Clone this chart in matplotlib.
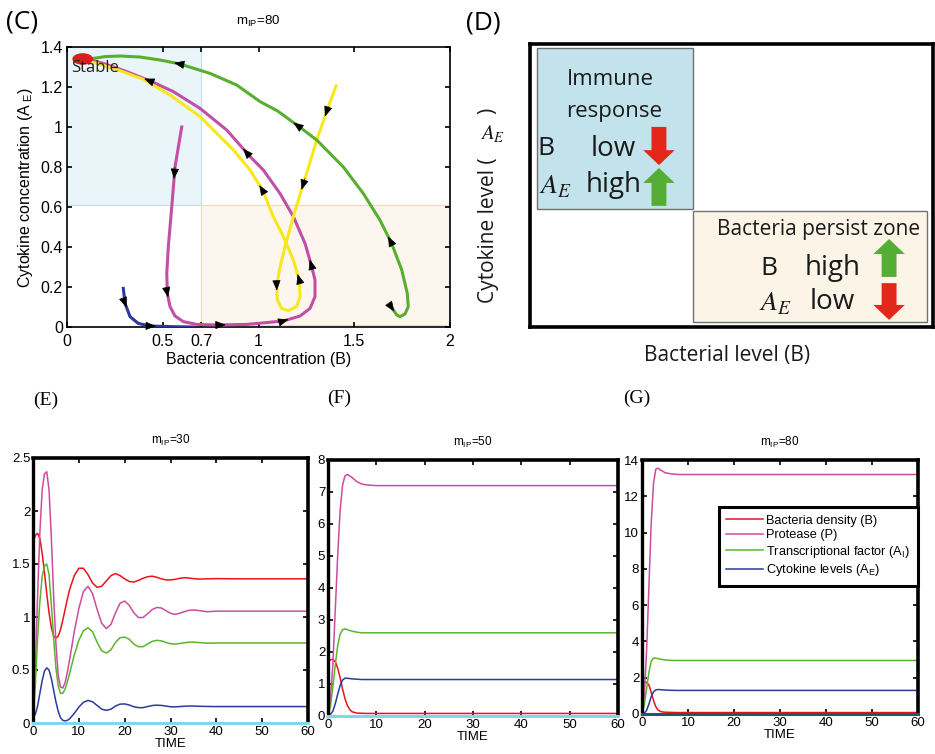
import matplotlib

matplotlib.use("Agg")
import matplotlib.pyplot as plt
from matplotlib.patches import Ellipse, FancyArrow, Rectangle

plt.rcParams["font.family"] = ["Liberation Sans", "DejaVu Sans"]
plt.rcParams["mathtext.default"] = "regular"

# ---------------- panel C: phase portrait (m_IP = 80) ----------------
green_b = [1.687, 1.704, 1.722, 1.739, 1.765, 1.782, 1.777, 1.748, 1.695, 1.634, 1.547,
           1.443, 1.304, 1.217, 1.10, 1.008, 0.886, 0.747, 0.59, 0.486, 0.38, 0.277,
           0.2, 0.137, 0.09]
green_ae = [0.102, 0.085, 0.06, 0.052, 0.065, 0.102, 0.168, 0.285, 0.418, 0.535, 0.668,
            0.80, 0.935, 0.998, 1.08, 1.127, 1.21, 1.268, 1.315, 1.335, 1.35, 1.355,
            1.352, 1.343, 1.338]
green_arrows = [1, 8, 13, 18]

magenta_b = [0.599, 0.564, 0.547, 0.529, 0.521, 0.524, 0.538, 0.564, 0.607, 0.677, 0.782,
             0.938, 1.13, 1.217, 1.269, 1.295, 1.295, 1.278, 1.243, 1.182, 1.112, 1.025,
             0.956, 0.834, 0.695, 0.555, 0.442, 0.312, 0.19, 0.137, 0.09]
magenta_ae = [1.0, 0.80, 0.60, 0.40, 0.268, 0.168, 0.102, 0.055, 0.027, 0.013, 0.01,
              0.013, 0.03, 0.055, 0.093, 0.152, 0.235, 0.302, 0.418, 0.552, 0.668, 0.785,
              0.852, 0.985, 1.093, 1.177, 1.227, 1.277, 1.318, 1.332, 1.338]
magenta_arrows = [1, 5, 10, 12, 17, 22, 26]

yellow_b = [1.405, 1.365, 1.304, 1.243, 1.182, 1.138, 1.109, 1.095, 1.098, 1.121, 1.156,
            1.199, 1.217, 1.213, 1.182, 1.13, 1.077, 1.025, 0.956, 0.869, 0.695, 0.538,
            0.399, 0.259, 0.155, 0.10]
yellow_ae = [1.205, 1.102, 0.935, 0.743, 0.552, 0.40, 0.285, 0.202, 0.135, 0.093, 0.082,
             0.102, 0.152, 0.235, 0.335, 0.452, 0.552, 0.677, 0.785, 0.885, 1.052, 1.16,
             1.238, 1.288, 1.318, 1.33]
yellow_arrows = [1, 3, 7, 13, 17]

blue_b = [0.294, 0.303, 0.329, 0.372, 0.433, 0.538, 0.658]
blue_ae = [0.193, 0.118, 0.052, 0.018, 0.005, 0.002, 0.0]
blue_arrows = [1, 4]

stable_point = (0.082, 1.34)
b_threshold = 0.7
ae_threshold = 0.61
c_xticks = [0, 0.5, 0.7, 1, 1.5, 2]
c_yticks = [0, 0.2, 0.4, 0.6, 0.8, 1, 1.2, 1.4]

# ---------------- panels E, F, G: time courses ----------------
t_e = [0, 0.5, 1, 1.5, 2, 2.5, 3, 3.5, 4, 4.5, 5, 5.5, 6, 6.5, 7, 7.5, 8, 9, 10, 11,
       12, 13, 14, 15, 16, 17, 18, 19, 20, 21, 22, 23, 24, 25, 26, 27, 28, 29, 30, 31,
       32, 33, 34, 35, 36, 38, 40, 45, 50, 55, 60]
b_e = [1.70, 1.77, 1.79, 1.74, 1.60, 1.42, 1.22, 1.04, 0.90, 0.82, 0.80, 0.82, 0.88, 0.97,
       1.07, 1.17, 1.26, 1.39, 1.46, 1.46, 1.40, 1.32, 1.28, 1.29, 1.34, 1.39, 1.41, 1.39,
       1.36, 1.335, 1.33, 1.345, 1.365, 1.38, 1.385, 1.375, 1.36, 1.35, 1.35, 1.355, 1.365,
       1.37, 1.368, 1.362, 1.358, 1.36, 1.362, 1.36, 1.36, 1.36, 1.36]
p_e = [0.05, 0.5, 1.2, 1.8, 2.2, 2.35, 2.37, 2.2, 1.75, 1.2, 0.75, 0.45, 0.34, 0.33, 0.38,
       0.48, 0.6, 0.86, 1.08, 1.24, 1.29, 1.22, 1.07, 0.94, 0.89, 0.93, 1.04, 1.13, 1.15,
       1.11, 1.04, 0.995, 0.995, 1.03, 1.07, 1.09, 1.085, 1.06, 1.035, 1.025, 1.035, 1.05,
       1.063, 1.066, 1.062, 1.05, 1.055, 1.055, 1.055, 1.055, 1.055]
ai_e = [0.05, 0.35, 0.8, 1.15, 1.38, 1.48, 1.50, 1.40, 1.12, 0.8, 0.52, 0.35, 0.28, 0.28,
        0.32, 0.39, 0.47, 0.64, 0.78, 0.87, 0.90, 0.86, 0.76, 0.68, 0.66, 0.69, 0.76, 0.805,
        0.81, 0.79, 0.745, 0.72, 0.72, 0.745, 0.77, 0.78, 0.775, 0.76, 0.748, 0.745, 0.75,
        0.757, 0.762, 0.763, 0.76, 0.753, 0.755, 0.755, 0.755, 0.755, 0.755]
ae_e = [0.06, 0.08, 0.16, 0.28, 0.40, 0.49, 0.52, 0.50, 0.42, 0.31, 0.2, 0.11, 0.05, 0.025,
        0.02, 0.025, 0.04, 0.09, 0.15, 0.195, 0.213, 0.20, 0.165, 0.13, 0.12, 0.13, 0.16,
        0.178, 0.18, 0.17, 0.153, 0.145, 0.145, 0.155, 0.165, 0.168, 0.166, 0.16, 0.153,
        0.152, 0.155, 0.158, 0.16, 0.16, 0.158, 0.156, 0.155, 0.155, 0.155, 0.155, 0.155]

t_fg = [0, 0.5, 1, 1.5, 2, 2.5, 3, 3.5, 4, 4.5, 5, 6, 7, 8, 9, 10, 20, 30, 40, 50, 60]
b_f = [1.70, 1.76, 1.77, 1.70, 1.5, 1.2, 0.85, 0.55, 0.33, 0.2, 0.13, 0.09, 0.085, 0.08,
       0.08, 0.08, 0.08, 0.08, 0.08, 0.08, 0.08]
p_f = [0.0, 0.5, 1.6, 3.3, 5.0, 6.4, 7.2, 7.5, 7.55, 7.5, 7.45, 7.32, 7.25, 7.22, 7.21,
       7.2, 7.2, 7.2, 7.2, 7.2, 7.2]
ai_f = [0.0, 0.3, 0.9, 1.6, 2.2, 2.55, 2.7, 2.72, 2.7, 2.67, 2.65, 2.62, 2.6, 2.6, 2.6,
        2.6, 2.6, 2.6, 2.6, 2.6, 2.6]
ae_f = [0.02, 0.05, 0.15, 0.38, 0.68, 0.95, 1.12, 1.18, 1.18, 1.17, 1.16, 1.15, 1.14,
        1.14, 1.14, 1.14, 1.14, 1.14, 1.14, 1.14, 1.14]

b_g = [1.75, 1.76, 1.74, 1.6, 1.2, 0.75, 0.4, 0.22, 0.14, 0.11, 0.1, 0.09, 0.085, 0.08,
       0.08, 0.08, 0.08, 0.08, 0.08, 0.08, 0.08]
p_g = [0.0, 1.0, 3.5, 7.0, 10.5, 12.7, 13.5, 13.55, 13.45, 13.38, 13.3, 13.25, 13.22,
       13.2, 13.2, 13.2, 13.2, 13.2, 13.2, 13.2, 13.2]
ai_g = [0.0, 0.5, 1.4, 2.3, 2.9, 3.08, 3.08, 3.05, 3.02, 3.0, 2.98, 2.96, 2.95, 2.95,
        2.95, 2.95, 2.95, 2.95, 2.95, 2.95, 2.95]
ae_g = [0.0, 0.05, 0.2, 0.55, 0.95, 1.22, 1.33, 1.35, 1.34, 1.33, 1.32, 1.31, 1.3, 1.3,
        1.3, 1.3, 1.3, 1.3, 1.3, 1.3, 1.3]

series_labels = ["Bacteria density (B)", "Protease (P)",
                 "Transcriptional factor (A$_I$)", "Cytokine levels (A$_E$)"]
series_colors = ["#e8131c", "#cc4c9f", "#5bb42e", "#2b3b9b"]
time_ticks = [0, 10, 20, 30, 40, 50, 60]

W, H = 935, 754
fig = plt.figure(figsize=(W / 100, H / 100), dpi=100)
AE_MATH = r"$\mathit{A}_{\mathit{E}}$"


def box(left, top, right, bottom):
    return [left / W, 1 - bottom / H, (right - left) / W, (bottom - top) / H]


def fig_text(x, y, s, **kw):
    fig.text(x / W, 1 - y / H, s, **kw)


def matlab_ticks(ax, size):
    ax.tick_params(direction="in", top=True, right=True, length=3.5, width=1.2,
                   labelsize=size)


def add_arrows(ax, xs, ys, idx):
    for i in idx:
        x0, y0 = xs[i], ys[i]
        x1 = x0 + 0.3 * (xs[i + 1] - x0)
        y1 = y0 + 0.3 * (ys[i + 1] - y0)
        ax.annotate("", xy=(x1, y1), xytext=(x0, y0),
                    arrowprops=dict(arrowstyle="-|>,head_length=0.65,head_width=0.26",
                                    color="black", lw=0.5, shrinkA=0, shrinkB=0),
                    zorder=6)


# ---- panel C
ax_c = fig.add_axes(box(67, 47, 450, 327))
ax_c.add_patch(Rectangle((0, ae_threshold), b_threshold, 1.4 - ae_threshold,
                         facecolor="#e9f5f9", edgecolor="#bfe0ea", lw=0.8, zorder=0))
ax_c.add_patch(Rectangle((b_threshold, 0.01), 2 - b_threshold, ae_threshold - 0.01,
                         facecolor="#fdf6ef", edgecolor="#f6d9b8", lw=0.8, zorder=0))
ax_c.plot(blue_b, blue_ae, color="#2b3a9a", lw=2.2, zorder=3)
ax_c.plot(magenta_b, magenta_ae, color="#c24fa6", lw=2.2, zorder=3)
ax_c.plot(yellow_b, yellow_ae, color="#f7e81c", lw=2.2, zorder=3)
ax_c.plot(green_b, green_ae, color="#5aae2f", lw=2.2, zorder=3)
add_arrows(ax_c, blue_b, blue_ae, blue_arrows)
add_arrows(ax_c, magenta_b, magenta_ae, magenta_arrows)
add_arrows(ax_c, yellow_b, yellow_ae, yellow_arrows)
add_arrows(ax_c, green_b, green_ae, green_arrows)
ax_c.add_patch(Ellipse(stable_point, 0.108, 0.058, facecolor="#d9201e",
                       edgecolor="none", zorder=5))
ax_c.text(0.024, 1.295, "Stable", fontsize=12, family="Open Sans", va="center",
          color="#222222", zorder=7)
ax_c.set_xlim(0, 2)
ax_c.set_ylim(0, 1.4)
ax_c.set_xticks(c_xticks)
ax_c.set_xticklabels(["0", "0.5", "0.7", "1", "1.5", "2"])
ax_c.set_yticks(c_yticks)
ax_c.set_yticklabels(["0", "0.2", "0.4", "0.6", "0.8", "1", "1.2", "1.4"])
matlab_ticks(ax_c, 11.5)
ax_c.tick_params(axis="x", pad=5)
ax_c.tick_params(axis="y", pad=3)
for s in ax_c.spines.values():
    s.set_linewidth(1.2)
ax_c.set_xlabel("Bacteria concentration (B)", fontsize=11.5, labelpad=2)
ax_c.set_ylabel("Cytokine concentration (A$_{\\ E}$)", fontsize=11.5, labelpad=4)
ax_c.set_title("m$_{IP}$=80", fontsize=9.5, pad=16)
fig_text(6, 22, "(C)", fontsize=19, family="Open Sans", va="center")

# ---- panel D
ax_d = fig.add_axes(box(530, 44, 933, 327))
ax_d.set_xlim(0, 1)
ax_d.set_ylim(0, 1)
ax_d.set_xticks([])
ax_d.set_yticks([])
for s in ax_d.spines.values():
    s.set_linewidth(2.6)
ax_d.add_patch(Rectangle((0.017, 0.417), 0.387, 0.569, facecolor="#c3e3ec",
                         edgecolor="#707070", lw=1))
ax_d.add_patch(Rectangle((0.404, 0.018), 0.581, 0.392, facecolor="#fdf4e8",
                         edgecolor="#707070", lw=1))
dfont = dict(family="Open Sans", ha="center", va="center", color="#1a1a1a")
mfont = dict(math_fontfamily="stix", ha="center", va="center", color="#1a1a1a")
ax_d.text(0.199, 0.873, "Immune", fontsize=16, **dfont)
ax_d.text(0.208, 0.760, "response", fontsize=16, **dfont)
ax_d.text(0.040, 0.629, "B", fontsize=19, **dfont)
ax_d.text(0.206, 0.629, "low", fontsize=20, **dfont)
ax_d.text(0.062, 0.495, AE_MATH, fontsize=20, **mfont)
ax_d.text(0.208, 0.502, "high", fontsize=20, **dfont)
ax_d.text(0.715, 0.343, "Bacteria persist zone", fontsize=15, **dfont)
ax_d.text(0.593, 0.208, "B", fontsize=19, **dfont)
ax_d.text(0.752, 0.208, "high", fontsize=20, **dfont)
ax_d.text(0.608, 0.083, AE_MATH, fontsize=20, **mfont)
ax_d.text(0.749, 0.088, "low", fontsize=20, **dfont)
arrow_kw = dict(width=0.037, head_width=0.078, head_length=0.053,
                length_includes_head=True, lw=0)
ax_d.add_patch(FancyArrow(0.320, 0.707, 0, -0.135, color="#e3281b", **arrow_kw))
ax_d.add_patch(FancyArrow(0.320, 0.428, 0, 0.134, color="#55ad35", **arrow_kw))
ax_d.add_patch(FancyArrow(0.891, 0.177, 0, 0.134, color="#55ad35", **arrow_kw))
ax_d.add_patch(FancyArrow(0.891, 0.155, 0, -0.130, color="#e3281b", **arrow_kw))
fig_text(727, 355, "Bacterial level (B)", fontsize=15, family="Open Sans",
         ha="center", va="center", color="#1a1a1a")
fig_text(488, 303, "Cytokine level (", fontsize=15, family="Open Sans",
         ha="center", va="bottom", rotation=90, color="#1a1a1a")
fig_text(488, 108, ")", fontsize=15, family="Open Sans",
         ha="center", va="top", rotation=90, color="#1a1a1a")
fig_text(493, 134, AE_MATH, fontsize=15, **mfont)
fig_text(466, 23, "(D)", fontsize=19, family="Open Sans", va="center")

# ---- panels E, F, G
panels = [
    ("(E)", "m$_{IP}$=30", box(33, 458, 308, 723), t_e, [b_e, p_e, ai_e, ae_e],
     (0, 2.5), [0, 0.5, 1, 1.5, 2, 2.5], ["0", "0.5", "1", "1.5", "2", "2.5"],
     "#7fd8ea", (33, 400)),
    ("(F)", "m$_{IP}$=50", box(328, 460, 618, 716), t_fg, [b_f, p_f, ai_f, ae_f],
     (0, 8), list(range(0, 9)), [str(v) for v in range(0, 9)], "#7fd8ea", (327, 398)),
    ("(G)", "m$_{IP}$=80", box(642, 460, 918, 714), t_fg, [b_g, p_g, ai_g, ae_g],
     (0, 14), list(range(0, 15, 2)), [str(v) for v in range(0, 15, 2)], "#1d5c66",
     (623, 398)),
]

for letter, title, rect, t, ys, ylim, yticks, ylabels, zero_color, lpos in panels:
    ax = fig.add_axes(rect)
    lines = []
    for y, c, lab in zip(ys, series_colors, series_labels):
        (ln,) = ax.plot(t, y, color=c, lw=1.1, label=lab)
        lines.append(ln)
    ax.plot([t[0], t[-1]], [0, 0], color=zero_color, lw=2.2, zorder=4, clip_on=False)
    ax.set_xlim(0, 60)
    ax.set_ylim(*ylim)
    ax.set_xticks(time_ticks)
    ax.set_yticks(yticks)
    ax.set_yticklabels(ylabels)
    matlab_ticks(ax, 9.5)
    ax.tick_params(pad=2)
    ax.spines["top"].set_linewidth(2.6)
    ax.spines["right"].set_linewidth(2.6)
    ax.spines["left"].set_linewidth(2.4)
    ax.spines["bottom"].set_linewidth(1.2)
    ax.set_xlabel("TIME", fontsize=9.5, labelpad=0)
    ax.set_title(title, fontsize=8.5, pad=10)
    fig_text(lpos[0], lpos[1], letter, fontsize=14, family="Liberation Serif",
             va="center")
    if letter == "(G)":
        leg = ax.legend(handles=lines, loc="upper right", bbox_to_anchor=(1.0, 0.815),
                        borderaxespad=0, fontsize=9.2, handlelength=2.9,
                        handletextpad=0.25, labelspacing=0.2, borderpad=0.6,
                        fancybox=False, framealpha=1, edgecolor="black")
        leg.get_frame().set_linewidth(2.2)

fig.savefig("out.png", dpi=100)
